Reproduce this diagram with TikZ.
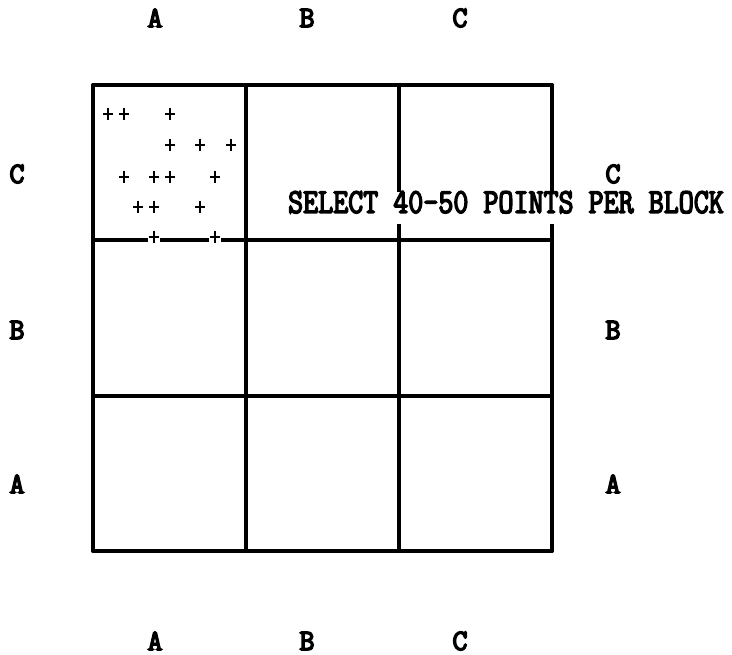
\documentclass[tikz,border=0pt]{standalone}
\usepackage{fontspec}
\newfontfamily\heavymono[FakeBold=5]{Latin Modern Mono}
\newfontfamily\narrowmono[FakeStretch=0.83, FakeBold=4]{Latin Modern Mono}

\begin{document}
\begin{tikzpicture}[x=0.025cm, y=-0.025cm,
    grid/.style={line width=2.6pt, line cap=round},
    lbl/.style={font=\heavymono\fontsize{21}{21}\selectfont, inner sep=0pt},
    note/.style={font=\narrowmono\fontsize{25}{25}\selectfont, fill=white, inner xsep=2pt, inner ysep=0pt, text height=15pt, text depth=8pt},
    plus/.style={minimum size=0.32cm, inner sep=0pt, fill=white,
        path picture={\draw[line width=2pt] (path picture bounding box.north) -- (path picture bounding box.south)
            ([xshift=1pt]path picture bounding box.west) -- ([xshift=-1pt]path picture bounding box.east);}}]

    \useasboundingbox (0,0) rectangle (732,655);

    % three by three blocks
    \foreach \x in {93,246,399,552}
        \draw[grid] (\x,85) -- (\x,551);
    \foreach \y in {85,240,396,551}
        \draw[grid] (93,\y) -- (552,\y);

    % block labels
    \foreach \t/\x in {A/155,B/307,C/460} {
        \node[lbl] (top\t) at (\x,18) {\t};
        \node[lbl] (bot\t) at (\x,641) {\t};
    }
    \foreach \t/\y in {C/174,B/330,A/484} {
        \node[lbl] (left\t) at (17,\y) {\t};
        \node[lbl] (right\t) at (613,\y) {\t};
    }

    % sample points in the first block
    \foreach \x/\y [count=\i] in {108/114,124/114,170/114,
            170/145,200/145,231/145,
            124/177,154/177,170/177,215/177,
            138/207,154/207,200/207,
            154/237,215/237}
        \node[plus] (p\i) at (\x,\y) {};

    \node[note, anchor=base] (select) at (506,213) {SELECT 40-50 POINTS PER BLOCK};
\end{tikzpicture}
\end{document}
